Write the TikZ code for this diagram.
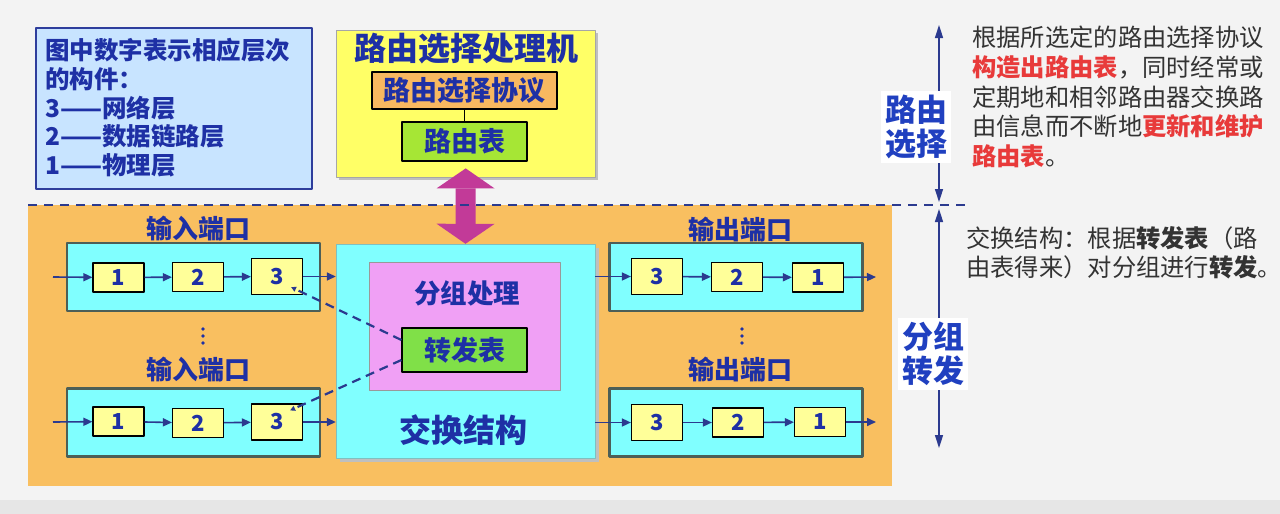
\documentclass[tikz,border=0pt]{standalone}
\usepackage{fontspec}
\setmainfont{Noto Sans CJK SC}
\usetikzlibrary{arrows.meta,shadows}
\definecolor{bgcol}{HTML}{F3F3F3}
\definecolor{bandgray}{HTML}{E6E6E6}
\definecolor{legblue}{HTML}{C8E4FF}
\definecolor{legborder}{HTML}{2E3D9C}
\definecolor{tblue}{HTML}{1E30A5}
\definecolor{sideblue}{HTML}{2040C0}
\definecolor{ryellow}{HTML}{FFFF66}
\definecolor{porange}{HTML}{F8B860}
\definecolor{rgreen}{HTML}{A6E635}
\definecolor{fgreen}{HTML}{80E048}
\definecolor{orangebg}{HTML}{F9BF60}
\definecolor{cyanfill}{HTML}{80FFFF}
\definecolor{portgray}{HTML}{4D5F57}
\definecolor{boxyellow}{HTML}{FFFF99}
\definecolor{pinkfill}{HTML}{F0A0F5}
\definecolor{magarrow}{HTML}{C23A98}
\definecolor{navy}{HTML}{2B3A8F}
\definecolor{hred}{HTML}{E83A3A}
\definecolor{descgray}{HTML}{333333}
\begin{document}
\begin{tikzpicture}[x=1pt,y=-1pt,>={Triangle[length=9pt,width=8pt]},line join=round,
	port/.style={draw=portgray,line width=2.5pt,fill=cyanfill,minimum width=253,minimum height=68},
	layer/.style={draw=black,line width=1.2pt,fill=boxyellow,minimum width=51,minimum height=29,inner sep=0pt,font=\fontsize{22}{22}\selectfont\bfseries,text=tblue},
	tall/.style={minimum height=36},
	lbl/.style={inner sep=0pt,text=tblue,font=\fontsize{26}{26}\selectfont\bfseries},
	flow/.style={->,draw=navy,line width=1.6pt},
	fwdline/.style={draw=navy,line width=2.2pt,dash pattern=on 9pt off 6pt,-{Triangle[length=5pt,width=5pt]}},
	divline/.style={draw=navy,line width=1.8pt,dash pattern=on 9pt off 7pt},
	vline/.style={<->,draw=navy,line width=1.5pt,>={Triangle[length=13pt,width=8pt]}},
	side/.style={fill=white,inner sep=4pt,align=center,text=sideblue,font=\fontsize{31}{34}\selectfont\bfseries},
	desc/.style={inner sep=0pt,align=left,text=descgray,font=\fontsize{24.3}{29.7}\selectfont}]
	\useasboundingbox (0,0) rectangle (1280,514);
	\fill[bgcol] (0,0) rectangle (1280,514);
	\fill[bandgray] (0,500) rectangle (1280,514);
	\fill[orangebg] (28,205) rectangle (892,486);

	\node[draw=legborder,line width=1.8pt,fill=legblue,minimum width=276,minimum height=161,anchor=north west] (legbox) at (35,27) {};
	\node[anchor=north west,inner sep=0pt,align=left,text=tblue,font=\fontsize{24.5}{28.8}\selectfont\bfseries] (legend) at (45,38) {图中数字表示相应层次\\的构件：\\3——网络层\\2——数据链路层\\1——物理层};

	\node[draw=gray!70,fill=ryellow,minimum width=259,minimum height=147,anchor=north west,drop shadow={shadow xshift=3pt,shadow yshift=-3pt,fill=black!25,opacity=1}] (rp) at (336,30) {};
	\node[lbl,font=\fontsize{32}{32}\selectfont\bfseries] (rptitle) at (466,49) {路由选择处理机};
	\node[draw=black,line width=1.2pt,fill=porange,minimum width=185,minimum height=37,inner sep=0pt,text=tblue,font=\fontsize{27}{27}\selectfont\bfseries] (rpproto) at (464.5,90.5) {路由选择协议};
	\node[draw=black,line width=1.2pt,fill=rgreen,minimum width=125,minimum height=39,inner sep=0pt,text=tblue,font=\fontsize{27}{27}\selectfont\bfseries] (rtable) at (464.5,141.5) {路由表};
	\draw[line width=1.2pt] (rpproto) -- (rtable);

	\node[draw=cyanfill!50!gray,fill=cyanfill,minimum width=259,minimum height=214,drop shadow={shadow xshift=4pt,shadow yshift=-4pt,fill=black!25,opacity=1}] (sw) at (465.5,351) {};
	\node[draw=gray!80,fill=pinkfill,minimum width=191,minimum height=128] (pkt) at (464.5,326) {};
	\node[lbl,font=\fontsize{26.5}{26.5}\selectfont\bfseries] (pkttitle) at (467,293) {分组处理};
	\node[draw=black,line width=1.2pt,fill=fgreen,minimum width=125,minimum height=44,inner sep=0pt,text=tblue,font=\fontsize{27}{27}\selectfont\bfseries] (fwd) at (464.5,350) {转发表};
	\node[lbl,font=\fontsize{32}{32}\selectfont\bfseries] (swtitle) at (463,430) {交换结构};

	\coordinate (mtop) at ([yshift=9pt]rp.south);
	\draw[magarrow,line width=20pt,{Triangle[length=20pt 0 0,width=58pt 0 0,line width=0pt 0 0]}-{Triangle[length=20pt 0 0,width=58pt 0 0,line width=0pt 0 0]}] (mtop) -- (sw.north);

	\node[lbl] (inlbl1) at (198,229) {输入端口};
	\node[port] (inport1) at (193.5,277) {};
	\node[layer] (in11) at (118.5,277.5) {1};
	\node[layer] (in12) at (198,277) {2};
	\node[layer,tall] (in13) at (277,276.5) {3};
	\fill[tblue] (203,329) circle (1.8) (203,336) circle (1.8) (203,343) circle (1.8);
	\node[lbl] (inlbl2) at (198,370) {输入端口};
	\node[port] (inport2) at (193.5,422.5) {};
	\node[layer] (in21) at (118.5,421.5) {1};
	\node[layer] (in22) at (198,423) {2};
	\node[layer,tall] (in23) at (277,422) {3};

	\node[lbl] (outlbl1) at (740,230) {输出端口};
	\node[port] (outport1) at (736,277) {};
	\node[layer,tall] (out13) at (657,276.5) {3};
	\node[layer] (out12) at (737,277) {2};
	\node[layer] (out11) at (818,277.5) {1};
	\fill[tblue] (742,329) circle (1.8) (742,336) circle (1.8) (742,343) circle (1.8);
	\node[lbl] (outlbl2) at (740,370) {输出端口};
	\node[port] (outport2) at (736,422.5) {};
	\node[layer,tall] (out23) at (657,422.5) {3};
	\node[layer] (out22) at (738,422.5) {2};
	\node[layer] (out21) at (820,422) {1};

	\coordinate (inL1) at (53,277);
	\coordinate (inL2) at (53,422);
	\coordinate (outR1) at (876,277);
	\coordinate (outR2) at (876,422);
	\draw[flow] (inL1) -- (in11);
	\draw[flow] (in11) -- (in12);
	\draw[flow] (in12) -- (in13);
	\draw[flow] (in13) -- (in13 -| sw.west);
	\draw[flow] (inL2) -- (in21);
	\draw[flow] (in21) -- (in22);
	\draw[flow] (in22) -- (in23);
	\draw[flow] (in23) -- (in23 -| sw.west);
	\draw[flow] (sw.east |- out13) -- (out13);
	\draw[flow] (out13) -- (out12);
	\draw[flow] (out12) -- (out11);
	\draw[flow] (out11) -- (outR1);
	\draw[flow] (sw.east |- out23) -- (out23);
	\draw[flow] (out23) -- (out22);
	\draw[flow] (out22) -- (out21);
	\draw[flow] (out21) -- (outR2);

	\draw[fwdline] ([yshift=10pt]fwd.west) -- ([xshift=-12pt,yshift=8pt]in13.south east);
	\draw[fwdline] ([yshift=-10pt]fwd.west) -- ([xshift=-13pt,yshift=-7pt]in23.north east);

	\coordinate (divL) at (28,205);
	\coordinate (divR) at (969,205);
	\draw[divline] (divL) -- (divR);

	\coordinate (vtop) at (939,25);
	\coordinate (vmid1) at (939,202);
	\coordinate (vmid2) at (939,209);
	\coordinate (vbot) at (939,448);
	\draw[vline] (vtop) -- (vmid1);
	\draw[vline] (vmid2) -- (vbot);
	\node[side] (selLbl) at (916,127) {路由\\选择};
	\node[side] (fwdLbl) at (933,354) {分组\\转发};

	\node[desc,anchor=north west] (seldesc) at (972,26) {根据所选定的路由选择协议\\\textcolor{hred}{\bfseries 构造出路由表}，同时经常或\\定期地和相邻路由器交换路\\由信息而不断地\textcolor{hred}{\bfseries 更新和维护}\\\textcolor{hred}{\bfseries 路由表}。};
	\node[desc,anchor=north west,font=\fontsize{24.3}{29}\selectfont] (fwddesc) at (966,226) {交换结构：根据\textbf{转发表}（路\\由表得来）对分组进行\textbf{转发}。};
\end{tikzpicture}
\end{document}
